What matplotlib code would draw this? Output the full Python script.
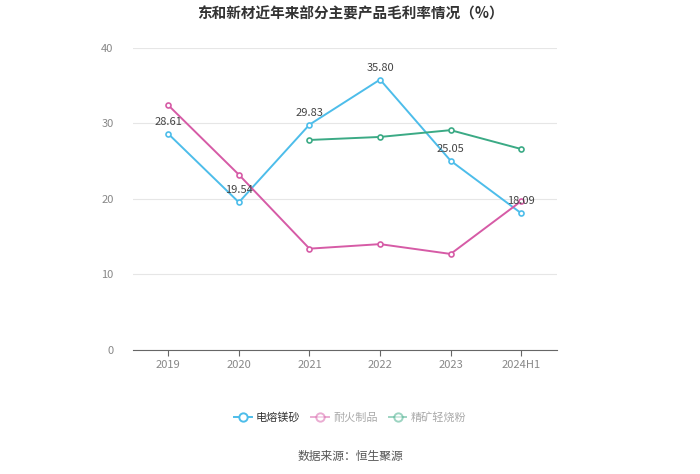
import matplotlib
matplotlib.use("Agg")
import matplotlib.pyplot as plt
from matplotlib.lines import Line2D

plt.rcParams['font.family'] = ['Noto Sans CJK SC', 'DejaVu Sans']

categories = ["2019", "2020", "2021", "2022", "2023", "2024H1"]
fused_magnesia = [28.61, 19.54, 29.83, 35.80, 25.05, 18.09]
refractory = [32.4, 23.2, 13.4, 14.0, 12.7, 19.7]
calcined_powder = [None, None, 27.8, 28.2, 29.1, 26.6]
series_names = ["电熔镁砂", "耐火制品", "精矿轻烧粉"]
colors = ["#4DBDEA", "#D65BA6", "#3BAA85"]
yticks = [0, 10, 20, 30, 40]

fig = plt.figure(figsize=(7.0, 4.74), dpi=100)
ax = fig.add_axes([0.19, 0.262, 0.605, 0.637])

x = list(range(len(categories)))
series = [fused_magnesia, refractory, calcined_powder]
for vals, c in zip(series, colors):
    xs = [i for i, v in zip(x, vals) if v is not None]
    ys = [v for v in vals if v is not None]
    ax.plot(xs, ys, color=c, lw=1.4, marker='o', ms=3.6, mfc='white',
            mec=c, mew=1.2, zorder=3)

for i, v in zip(x, fused_magnesia):
    ax.annotate(f"{v:.2f}", (i, v), xytext=(0, 5), textcoords='offset points',
                ha='center', va='bottom', fontsize=8, color='#444444', zorder=4)

ax.set_xlim(-0.5, len(categories) - 0.5)
ax.set_ylim(0, 40)
ax.set_yticks(yticks)
ax.set_xticks(x)
ax.set_xticklabels(categories)
ax.tick_params(axis='y', length=0, labelsize=8, labelcolor='#888888', pad=14)
ax.tick_params(axis='x', length=4, width=0.8, color='#666666', labelsize=8,
               labelcolor='#888888', pad=3)
ax.grid(axis='y', color='#E6E6E6', lw=0.8)
ax.set_axisbelow(True)
for s in ['top', 'right', 'left']:
    ax.spines[s].set_visible(False)
ax.spines['bottom'].set_color('#666666')
ax.spines['bottom'].set_linewidth(0.8)

fig.text(0.5, 0.972, "东和新材近年来部分主要产品毛利率情况（%）", ha='center', va='center',
         fontsize=10.5, fontweight='bold', color='#333333')

alphas = [1.0, 0.5, 0.5]
handles = [Line2D([0], [0], color=c, lw=1.4, marker='o', ms=6, mfc='white',
                  mec=c, mew=1.4, alpha=a) for c, a in zip(colors, alphas)]
leg = fig.legend(handles, series_names, loc='center', bbox_to_anchor=(0.5, 0.12),
                 ncol=3, frameon=False, fontsize=8, handlelength=1.6,
                 columnspacing=1.0, handletextpad=0.35)
for t, c in zip(leg.get_texts(), ['#333333', '#AAAAAA', '#AAAAAA']):
    t.set_color(c)

fig.text(0.5, 0.036, "数据来源：恒生聚源", ha='center', va='center', fontsize=8.5,
         color='#555555')

fig.savefig("out.png", dpi=100)
